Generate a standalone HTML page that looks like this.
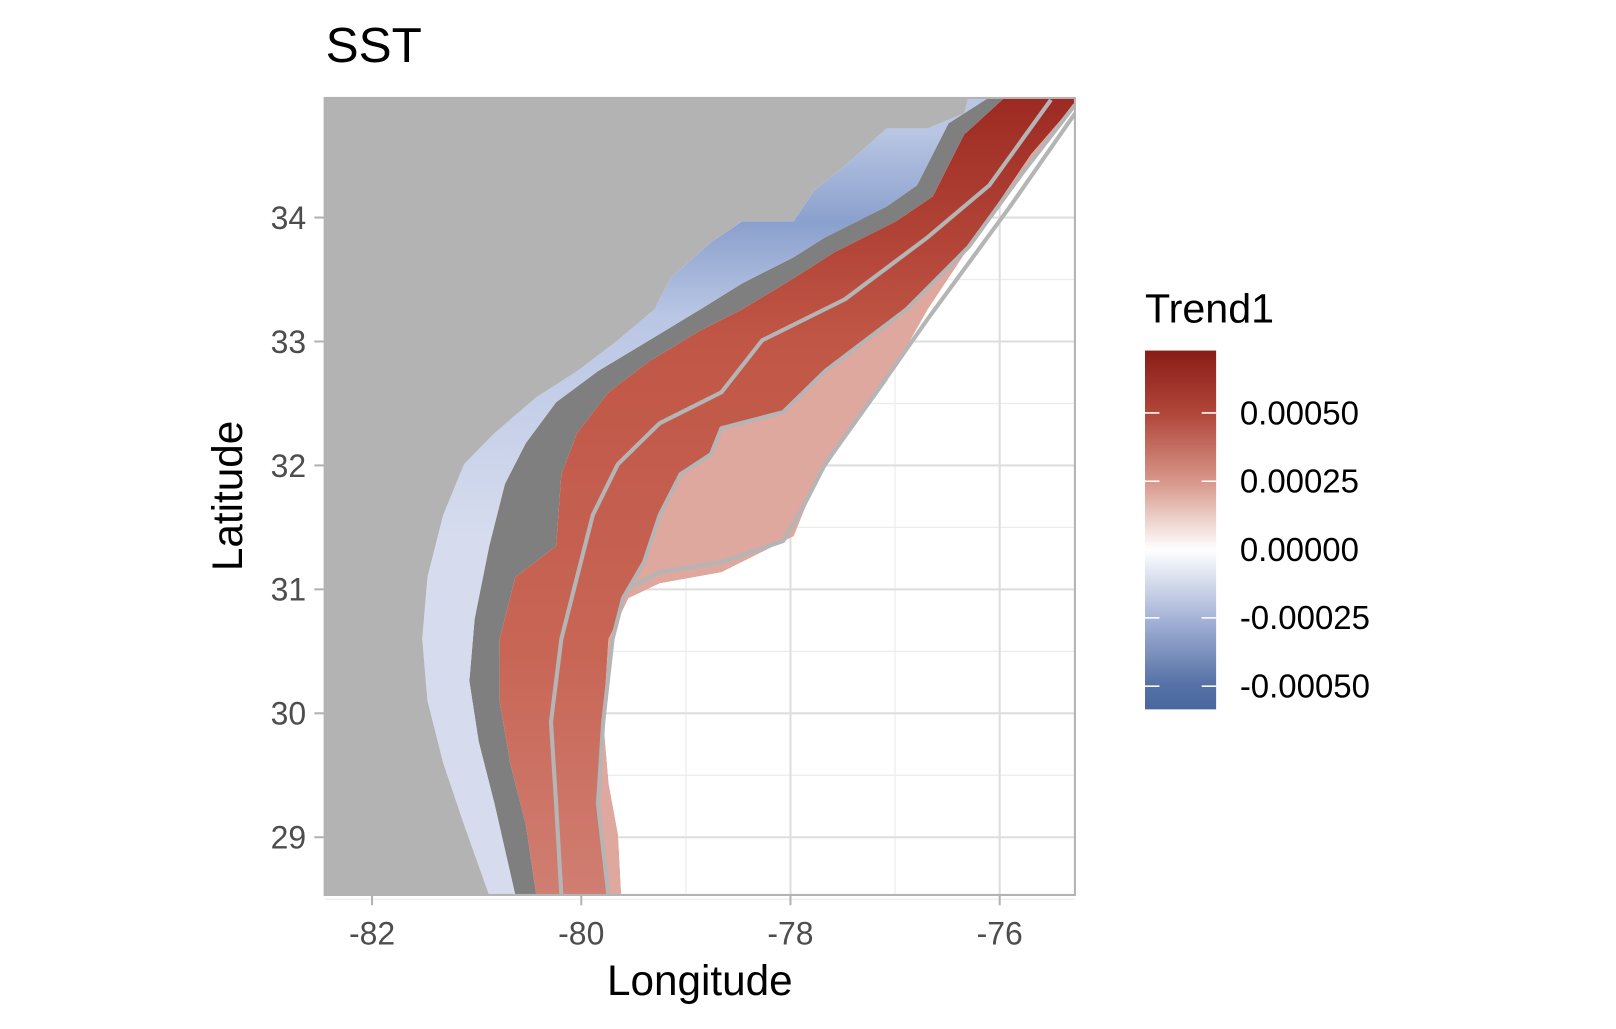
<!DOCTYPE html>
<html><head><meta charset="utf-8"><style>
html,body{margin:0;padding:0;background:#fff;}
svg{display:block;font-family:"Liberation Sans",Arial,sans-serif;}
</style></head><body>
<svg id="chart" width="1616" height="1029" viewBox="0 0 1568 998" preserveAspectRatio="none" xmlns="http://www.w3.org/2000/svg">
<defs>
<linearGradient id="legGrad" x1="0" y1="0" x2="0" y2="1">
<stop offset="0" stop-color="#8a1c17"/><stop offset="0.18" stop-color="#b2473b"/><stop offset="0.37" stop-color="#d9998d"/>
<stop offset="0.555" stop-color="#ffffff"/><stop offset="0.74" stop-color="#a9b6d8"/><stop offset="0.93" stop-color="#5571a6"/><stop offset="1" stop-color="#4a679e"/>
</linearGradient>
<linearGradient id="blueGrad" gradientUnits="userSpaceOnUse" x1="0" y1="130" x2="0" y2="520">
<stop offset="0" stop-color="#b8c5e3"/><stop offset="0.22" stop-color="#8aa0cd"/><stop offset="0.45" stop-color="#b9c6e4"/><stop offset="1" stop-color="#d6dcee"/>
</linearGradient>
<linearGradient id="redGrad" gradientUnits="userSpaceOnUse" x1="0" y1="95" x2="0" y2="868">
<stop offset="0" stop-color="#9d2a22"/><stop offset="0.3" stop-color="#c05646"/><stop offset="0.7" stop-color="#c86656"/><stop offset="1" stop-color="#d07e72"/>
</linearGradient>
<clipPath id="panelClip"><rect x="315" y="95" width="728" height="773"/></clipPath>
</defs>
<g id="panel"></g>
<g id="axes"></g>
<g id="legend"></g>
</svg>
<script>
const lonTicks=[-82,-80,-78,-76];
const lonMinor=[-81,-79,-77];
const latTicks=[29,30,31,32,33,34];
const latMinor=[28.5,29.5,30.5,31.5,32.5,33.5];
const legendValues=[0.0005,0.00025,0,-0.00025,-0.0005];
const legendLabels=["0.00050","0.00025","0.00000","-0.00025","-0.00050"];
const coastLine=[[-76.30,34.97],[-76.34,34.84],[-76.69,34.72],[-77.08,34.72],[-77.48,34.42],[-77.77,34.22],[-77.97,33.97],[-78.46,33.97],[-78.76,33.80],[-79.15,33.51],[-79.30,33.26],[-79.65,33.01],[-80.04,32.76],[-80.43,32.55],[-80.83,32.26],[-81.12,32.01],[-81.32,31.60],[-81.47,31.10],[-81.52,30.60],[-81.47,30.10],[-81.32,29.60],[-81.12,29.10],[-80.88,28.53]];
const outerEdge=[[-75.28,34.97],[-75.28,34.92],[-75.70,34.51],[-76.10,34.01],[-76.69,33.26],[-77.08,32.68],[-77.58,32.09],[-77.77,31.85],[-77.97,31.43],[-78.66,31.14],[-79.25,31.05],[-79.55,30.93],[-79.74,30.60],[-79.79,29.93],[-79.74,29.43],[-79.65,29.02],[-79.62,28.53]];
const blueEdge=[[-76.10,34.97],[-76.49,34.76],[-76.79,34.26],[-77.08,34.09],[-77.67,33.84],[-77.97,33.68],[-78.46,33.47],[-78.86,33.26],[-79.35,33.01],[-79.84,32.76],[-80.24,32.51],[-80.53,32.18],[-80.73,31.85],[-80.88,31.35],[-81.02,30.76],[-81.07,30.26],[-80.98,29.77],[-80.83,29.27],[-80.63,28.53]];
const redEdge=[[-75.95,34.97],[-76.34,34.67],[-76.64,34.17],[-76.99,33.97],[-77.58,33.72],[-77.97,33.51],[-78.46,33.26],[-78.86,33.09],[-79.35,32.84],[-79.74,32.59],[-80.04,32.26],[-80.19,31.93],[-80.24,31.35],[-80.63,31.10],[-80.78,30.60],[-80.78,30.10],[-80.68,29.60],[-80.53,29.10],[-80.43,28.53]];
const contour1=[[-75.51,34.95],[-76.10,34.26],[-76.69,33.84],[-77.48,33.34],[-78.27,33.01],[-78.66,32.59],[-79.25,32.34],[-79.65,32.01],[-79.89,31.60],[-80.04,31.10],[-80.19,30.60],[-80.29,29.93],[-80.24,29.27],[-80.19,28.53]];
const contour2=[[-75.28,34.91],[-75.80,34.34],[-76.30,33.76],[-76.89,33.26],[-77.67,32.76],[-78.07,32.43],[-78.66,32.30],[-78.76,32.09],[-79.05,31.93],[-79.25,31.60],[-79.40,31.22],[-79.60,30.93],[-79.70,30.60],[-79.79,29.93],[-79.84,29.27],[-79.74,28.53]];
const contour3=[[-75.28,34.84],[-75.90,34.09],[-76.69,33.18],[-77.18,32.59],[-77.67,32.01],[-77.87,31.68],[-78.07,31.39],[-78.66,31.22],[-79.25,31.14],[-79.55,31.01]];

const NS="http://www.w3.org/2000/svg";
const X0=315,X1=1043,Y0=95,Y1=868;
function xs(lon){return 361+(lon+82)*101.5;}
function ys(lat){return 211-(lat-34)*120.2;}
function ly(v){return 533-v*265000;}
function mk(parent,tag,attrs){const e=document.createElementNS(NS,tag);for(const k in attrs)e.setAttribute(k,attrs[k]);parent.appendChild(e);return e;}
function pts(arr){return arr.map(p=>xs(p[0]).toFixed(1)+","+ys(p[1]).toFixed(1)).join(" ");}
const panel=document.getElementById('panel');
const axes=document.getElementById('axes');
const legend=document.getElementById('legend');
let e;
e=mk(panel,'rect',{x:X0,y:Y0,width:X1-X0,height:Y1-Y0,fill:'#ffffff'});


lonMinor.forEach(v=>{e=mk(panel,'line',{x1:xs(v),x2:xs(v),y1:Y0,y2:Y1,stroke:'#ececec','stroke-width':1.2});

});
latMinor.forEach(v=>{e=mk(panel,'line',{x1:X0,x2:X1,y1:ys(v),y2:ys(v),stroke:'#ececec','stroke-width':1.2});

});
lonTicks.forEach(v=>{e=mk(panel,'line',{x1:xs(v),x2:xs(v),y1:Y0,y2:Y1,stroke:'#dedede','stroke-width':2});

});
latTicks.forEach(v=>{e=mk(panel,'line',{x1:X0,x2:X1,y1:ys(v),y2:ys(v),stroke:'#dedede','stroke-width':2});

});
const g=mk(panel,'g',{'clip-path':'url(#panelClip)'});


e=mk(g,'polygon',{points:pts(redEdge)+" "+pts(outerEdge.slice().reverse()),fill:'url(#redGrad)'});


e=mk(g,'polygon',{points:pts(contour2)+" "+pts(outerEdge.slice().reverse()),fill:'#dea89f'});


e=mk(g,'polygon',{points:pts(blueEdge)+" "+pts(redEdge.slice().reverse()),fill:'#7f7f7f'});


e=mk(g,'polygon',{points:pts(coastLine)+" "+pts(blueEdge.slice().reverse()),fill:'url(#blueGrad)'});


e=mk(g,'polygon',{points:X0+","+Y0+" "+pts(coastLine)+" "+X0+","+Y1,fill:'#b3b3b3'});


[contour1,contour2,contour3].forEach(c=>{e=mk(g,'polyline',{points:pts(c),fill:'none',stroke:'#b5b5b5','stroke-width':4,'stroke-linejoin':'round'});

});
e=mk(panel,'rect',{x:X0,y:Y0,width:X1-X0,height:Y1-Y0,fill:'none',stroke:'#b3b3b3','stroke-width':2});


lonTicks.forEach(v=>{
e=mk(axes,'line',{x1:xs(v),x2:xs(v),y1:Y1,y2:Y1+10,stroke:'#b3b3b3','stroke-width':2});


e=mk(axes,'text',{x:xs(v),y:Y1+48,'text-anchor':'middle','font-size':31,fill:'#4d4d4d'});e.textContent=v;

});
latTicks.forEach(v=>{
e=mk(axes,'line',{x1:X0-10,x2:X0,y1:ys(v),y2:ys(v),stroke:'#b3b3b3','stroke-width':2});


e=mk(axes,'text',{x:X0-18,y:ys(v)+11,'text-anchor':'end','font-size':31,fill:'#4d4d4d'});e.textContent=v;

});
e=mk(axes,'text',{x:679,y:965,'text-anchor':'middle','font-size':41,fill:'#000'});e.textContent='Longitude';


e=mk(axes,'text',{x:235,y:481,'text-anchor':'middle','font-size':41,fill:'#000',transform:'rotate(-90 235 481)'});e.textContent='Latitude';


e=mk(axes,'text',{x:316,y:60,'font-size':48,fill:'#000'});e.textContent='SST';


e=mk(legend,'text',{x:1111,y:313,'font-size':40,fill:'#000'});e.textContent='Trend1';


e=mk(legend,'rect',{x:1111,y:340,width:69,height:348,fill:'url(#legGrad)'});


legendValues.forEach((v,i)=>{
const y=ly(v);
e=mk(legend,'line',{x1:1111,x2:1125,y1:y,y2:y,stroke:'#fff','stroke-width':1.5});


e=mk(legend,'line',{x1:1166,x2:1180,y1:y,y2:y,stroke:'#fff','stroke-width':1.5});


e=mk(legend,'text',{x:1203,y:y+11,'font-size':32,fill:'#000'});e.textContent=legendLabels[i];

});
</script>
</body></html>
